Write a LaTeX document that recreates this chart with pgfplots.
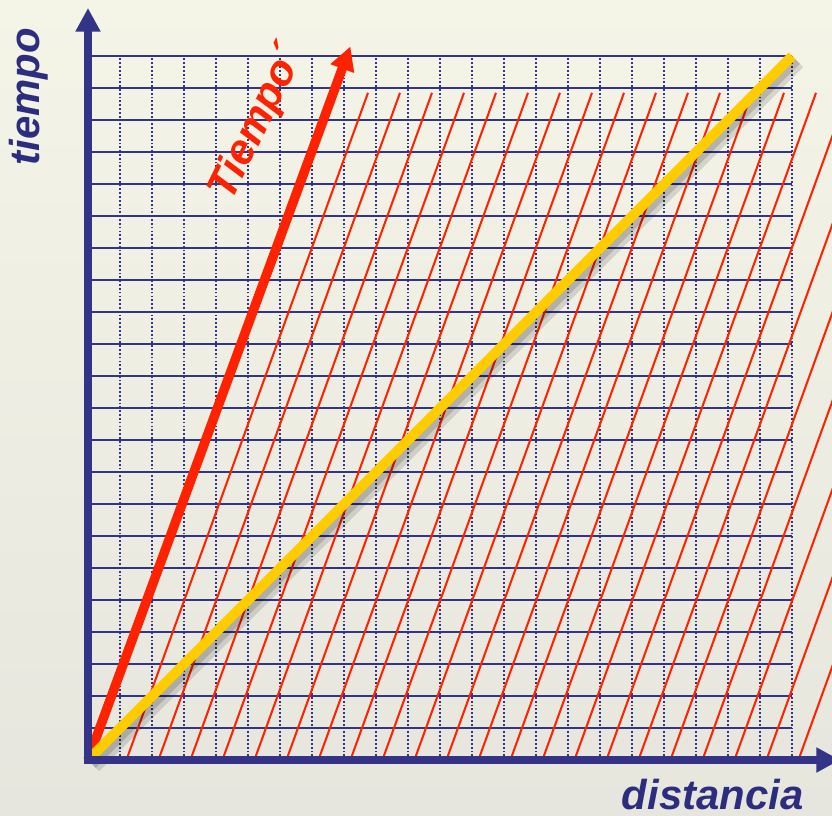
\documentclass[border=0pt]{standalone}
\usepackage{pgfplots}
\pgfplotsset{compat=1.18}
\usepackage{fontspec}
\setmainfont{Liberation Sans}
\usetikzlibrary{arrows.meta}

\definecolor{navy}{HTML}{333388}
\definecolor{rojo}{HTML}{FF2200}
\definecolor{amarillo}{HTML}{FFCC00}
\definecolor{bgtop}{HTML}{F4F4E7}
\definecolor{bgbot}{HTML}{E6E6DE}
\definecolor{textblue}{HTML}{2D2D80}

\begin{document}
\begin{tikzpicture}
\begin{axis}[
    x=0.5cm, y=0.5cm,
    xmin=-2.75, xmax=23.25, ymin=-1.72, ymax=23.75,
    axis lines=none, ticks=none,
    unbounded coords=jump,
    every axis plot/.append style={no marks},
]
% fondo
\shade[top color=bgtop, bottom color=bgbot] (rel axis cs:0,0) rectangle (rel axis cs:1,1);

% lineas verticales punteadas
\addplot[navy, line width=0.9pt, dash pattern=on 0.8pt off 0.9pt] coordinates {
    (1,0)(1,22) (nan,nan) (2,0)(2,22) (nan,nan) (3,0)(3,22) (nan,nan)
    (4,0)(4,22) (nan,nan) (5,0)(5,22) (nan,nan) (6,0)(6,22) (nan,nan)
    (7,0)(7,22) (nan,nan) (8,0)(8,22) (nan,nan) (9,0)(9,22) (nan,nan)
    (10,0)(10,22) (nan,nan) (11,0)(11,22) (nan,nan) (12,0)(12,22) (nan,nan)
    (13,0)(13,22) (nan,nan) (14,0)(14,22) (nan,nan) (15,0)(15,22) (nan,nan)
    (16,0)(16,22) (nan,nan) (17,0)(17,22) (nan,nan) (18,0)(18,22) (nan,nan)
    (19,0)(19,22) (nan,nan) (20,0)(20,22) (nan,nan) (21,0)(21,22) (nan,nan)
    (22,0)(22,22)
};

% lineas horizontales
\addplot[navy, line width=1.3pt] coordinates {
    (0,1)(22,1) (nan,nan) (0,2)(22,2) (nan,nan) (0,3)(22,3) (nan,nan)
    (0,4)(22,4) (nan,nan) (0,5)(22,5) (nan,nan) (0,6)(22,6) (nan,nan)
    (0,7)(22,7) (nan,nan) (0,8)(22,8) (nan,nan) (0,9)(22,9) (nan,nan)
    (0,10)(22,10) (nan,nan) (0,11)(22,11) (nan,nan) (0,12)(22,12) (nan,nan)
    (0,13)(22,13) (nan,nan) (0,14)(22,14) (nan,nan) (0,15)(22,15) (nan,nan)
    (0,16)(22,16) (nan,nan) (0,17)(22,17) (nan,nan) (0,18)(22,18) (nan,nan)
    (0,19)(22,19) (nan,nan) (0,20)(22,20) (nan,nan) (0,21)(22,21) (nan,nan)
    (0,22)(22,22)
};

% lineas de tiempo' (finas)
\addplot[rojo, line width=0.9pt] coordinates {
    (1.2,0)(8.75,20.85) (nan,nan) (2.2,0)(9.75,20.85) (nan,nan)
    (3.2,0)(10.75,20.85) (nan,nan) (4.2,0)(11.75,20.85) (nan,nan)
    (5.2,0)(12.75,20.85) (nan,nan) (6.2,0)(13.75,20.85) (nan,nan)
    (7.2,0)(14.75,20.85) (nan,nan) (8.2,0)(15.75,20.85) (nan,nan)
    (9.2,0)(16.75,20.85) (nan,nan) (10.2,0)(17.75,20.85) (nan,nan)
    (11.2,0)(18.75,20.85) (nan,nan) (12.2,0)(19.75,20.85) (nan,nan)
    (13.2,0)(20.75,20.85) (nan,nan) (14.2,0)(21.75,20.85) (nan,nan)
    (15.2,0)(22.75,20.85) (nan,nan) (16.2,0)(23.75,20.85) (nan,nan)
    (17.2,0)(24.75,20.85) (nan,nan) (18.2,0)(25.75,20.85) (nan,nan)
    (19.2,0)(26.75,20.85) (nan,nan) (20.2,0)(27.75,20.85) (nan,nan)
    (21.2,0)(28.75,20.85) (nan,nan) (22.2,0)(29.75,20.85)
};

% eje tiempo'
\addplot[rojo, line width=4.2pt, -{Triangle[width=10.5pt,length=10.5pt]}] coordinates {(0,0) (8.2,22.3)};

% linea de la luz con sombra
\addplot[black, opacity=0.12, line width=8pt] coordinates {(0.15,-0.15) (22.15,21.85)};
\addplot[black, opacity=0.15, line width=5pt] coordinates {(0.12,-0.12) (22.12,21.88)};
\addplot[amarillo, line width=4.4pt] coordinates {(0,0) (22,22)};

% ejes
\addplot[navy, line width=3.5pt, -{Triangle[width=10.5pt,length=10.5pt]}] coordinates {(-0.12,0) (23.5,0)};
\addplot[navy, line width=3.5pt, -{Triangle[width=10.5pt,length=10.5pt]}] coordinates {(0,-0.05) (0,23.5)};

% rotulos
\node[rotate=90, text=textblue, font=\fontsize{18.6}{20}\selectfont\bfseries\itshape]
    at (axis cs:-1.84,20.73) {tiempo};
\node[text=textblue, font=\fontsize{18.6}{20}\selectfont\bfseries\itshape]
    at (axis cs:19.52,-1.07) {distancia};
\node[rotate=64, text=rojo, font=\fontsize{19}{20}\selectfont\bfseries\itshape]
    at (axis cs:5.3,19.9) {Tiempo´};
\end{axis}
\end{tikzpicture}
\end{document}
